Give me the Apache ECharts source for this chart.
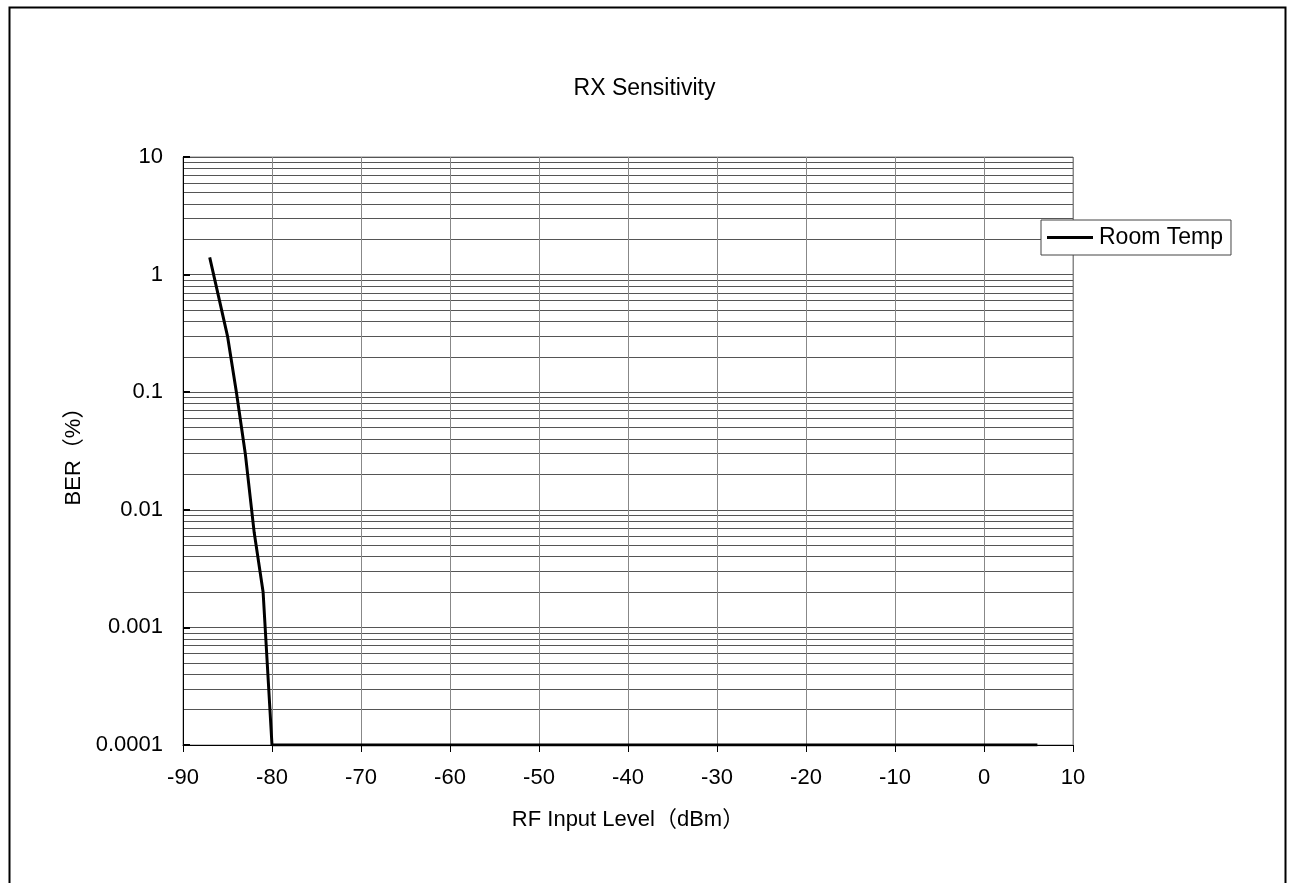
<!DOCTYPE html>
<html>
<head>
<meta charset="utf-8">
<script src="https://cdn.jsdelivr.net/npm/echarts@6/dist/echarts.min.js"></script>
<style>
  html, body { margin: 0; padding: 0; background: #fff; }
  #chart { width: 1289px; height: 883px; }
</style>
</head>
<body>
<div id="chart"></div>
<script>
const rfLevels = [-87, -86, -85, -84, -83, -82, -81, -80, 6];
const berRoomTemp = [1.4, 0.65, 0.3, 0.1, 0.03, 0.0064, 0.002, 0.0001, 0.0001];
const xTicks = { min: -90, max: 10, interval: 10 };
const yTicks = { min: 0.0001, max: 10 };

const font = "'Liberation Sans', Arial, 'Noto Sans CJK SC', sans-serif";

const chart = echarts.init(document.getElementById("chart"));

chart.setOption({
    animation: false,
    textStyle: { fontFamily: font, color: "#000" },
    title: {
        text: "RX Sensitivity",
        left: "center",
        top: 72,
        textStyle: { fontFamily: font, fontSize: 23, fontWeight: "normal", color: "#000" },
    },
    graphic: [
        {
            type: "rect",
            left: 7,
            top: 5,
            shape: { width: 1276, height: 900 },
            style: { fill: "none", stroke: "#000", lineWidth: 2 },
            silent: true,
        },
    ],
    legend: {
        left: 1041,
        top: 220,
        orient: "vertical",
        backgroundColor: "#fff",
        borderColor: "#444",
        borderWidth: 1,
        borderRadius: 0,
        padding: [6, 8, 6, 6],
        itemWidth: 46,
        itemHeight: 3,
        itemGap: 0,
        textStyle: { fontFamily: font, fontSize: 23, color: "#000", padding: [0, 0, 0, 1] },
        data: [{ name: "Room Temp", icon: "rect" }],
    },
    grid: {
        left: 183,
        top: 157,
        right: 216,
        bottom: 138,
        show: true,
        borderColor: "#888",
        borderWidth: 1,
        containLabel: false,
    },
    xAxis: {
        type: "value",
        min: xTicks.min,
        max: xTicks.max,
        interval: xTicks.interval,
        name: "RF Input Level（dBm）",
        nameLocation: "middle",
        nameGap: 64,
        nameTextStyle: { fontFamily: font, fontSize: 22, color: "#000" },
        axisLine: { onZero: false, lineStyle: { color: "#000", width: 1 } },
        axisTick: { show: true, inside: false, length: 7, lineStyle: { color: "#000" } },
        axisLabel: { fontFamily: font, fontSize: 22, color: "#000", margin: 22 },
        splitLine: { show: true, lineStyle: { color: "#888", width: 1 } },
    },
    yAxis: {
        type: "log",
        logBase: 10,
        min: yTicks.min,
        max: yTicks.max,
        name: "BER（%）",
        nameLocation: "middle",
        nameGap: 98,
        nameRotate: 90,
        nameTextStyle: { fontFamily: font, fontSize: 22, color: "#000" },
        axisLine: { onZero: false, lineStyle: { color: "#000", width: 1 } },
        axisTick: { show: true, inside: true, length: 7, lineStyle: { color: "#000", width: 2 } },
        axisLabel: {
            fontFamily: font,
            fontSize: 22,
            color: "#000",
            margin: 20,
            formatter: (v) => String(v),
        },
        splitLine: { show: true, lineStyle: { color: "#555", width: 1 } },
        minorTick: { show: false, splitNumber: 9 },
        minorSplitLine: { show: true, lineStyle: { color: "#555", width: 1 } },
    },
    series: [
        {
            name: "Room Temp",
            type: "line",
            symbol: "none",
            data: rfLevels.map((x, i) => [x, berRoomTemp[i]]),
            lineStyle: { color: "#000", width: 3 },
            itemStyle: { color: "#000" },
        },
    ],
});
</script>
</body>
</html>
